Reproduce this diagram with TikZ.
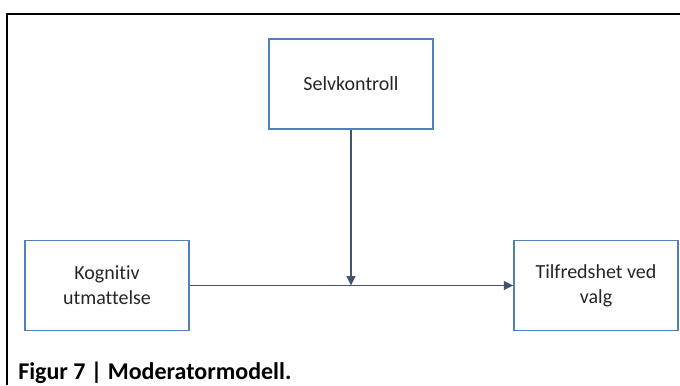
\documentclass[tikz,border=0pt]{standalone}
\usepackage{fontspec}
\setmainfont{Carlito}[Ligatures={NoCommon}]
\usetikzlibrary{arrows.meta}
\definecolor{boxblue}{RGB}{84,128,184}
\definecolor{arrowc}{RGB}{68,84,106}
\begin{document}
\begin{tikzpicture}[x=0.75pt,y=-0.75pt,
  box/.style={draw=boxblue,line width=1.1pt,minimum width=164*0.75pt,minimum height=90*0.75pt,
    inner sep=0pt,align=center,font=\fontsize{15}{18.5}\selectfont,text=black!85},
  conn/.style={draw=arrowc,line width=1.2pt,-{Triangle[length=7pt,width=6.5pt]}}]
\useasboundingbox (0,0) rectangle (680,385);
\fill[white] (0,0) rectangle (680,385);
\draw[black,line width=1.5pt] (6.5,385) -- (6.5,14.5) -- (681,14.5);
\node[box] (selv) at (351,84) {Selvkontroll};
\node[box] (kog) at (107,285.5) {Kognitiv\\utmattelse};
\node[box] (tilf) at (596,285.5) {Tilfredshet ved\\valg};
\coordinate (mid) at (selv.south |- kog.east);
\draw[conn] (kog.east) -- (tilf.west);
\draw[conn] (selv.south) -- (mid);
\node[anchor=base west,inner sep=0pt,font=\bfseries\fontsize{18}{21}\selectfont] (cap) at (18,379.5) {Figur 7 | Moderatormodell.};
\end{tikzpicture}
\end{document}
